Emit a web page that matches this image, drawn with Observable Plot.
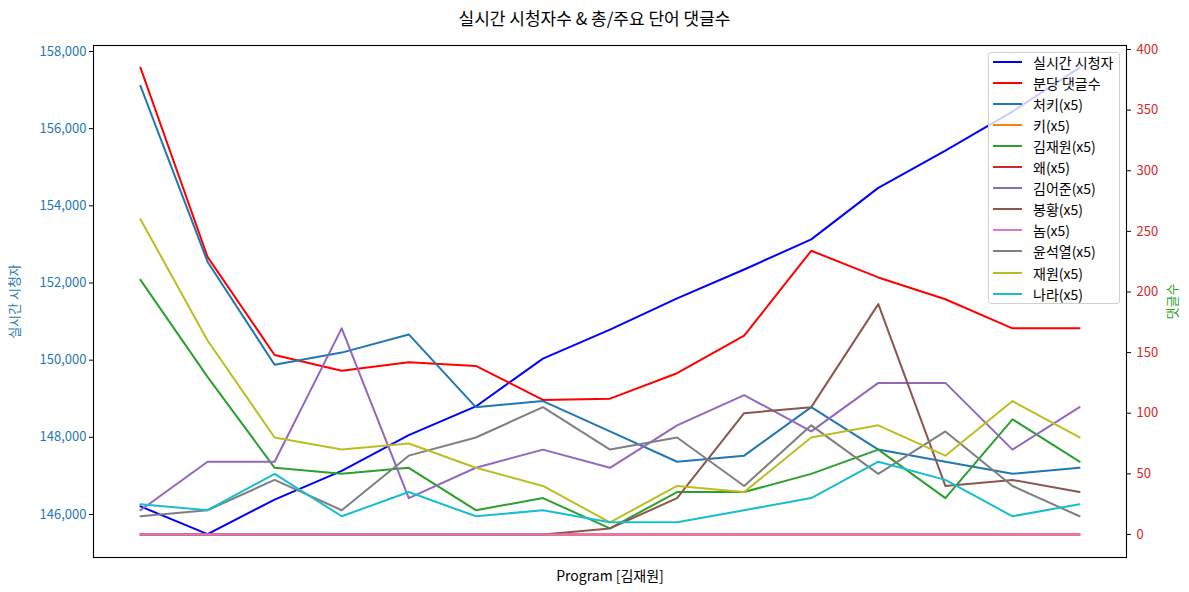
<!DOCTYPE html>
<html>
<head>
<meta charset="utf-8">
<script src="https://cdn.jsdelivr.net/npm/d3@7"></script>
<script src="https://cdn.jsdelivr.net/npm/@observablehq/plot@0.6"></script>
<style>
  html, body { margin: 0; padding: 0; background: white; }
  body { width: 1189px; height: 592px; overflow: hidden; font-family: "Noto Sans CJK KR", "Noto Sans", sans-serif; }
  #title { height: 36px; line-height: 36px; text-align: center; font-size: 17px; color: #000; }
  #wrap { position: relative; width: 1189px; height: 556px; }
  #wrap svg { position: absolute; left: 0; top: 0; }
  #legend { position: absolute; left: 988px; top: 16px; width: 132px; height: 252px; border: 1px solid #d0d0d0; border-radius: 3px; background: rgba(255,255,255,0.8); box-sizing: border-box; }
  .entry { position: absolute; left: 0; height: 20px; display: flex; align-items: center; font-size: 14px; color: #000; white-space: nowrap; }
  .sw { width: 29px; height: 2px; margin-left: 4px; margin-right: 11px; }
</style>
</head>
<body>
<div id="title">실시간 시청자수 &amp; 총/주요 단어 댓글수</div>
<div id="wrap"><div id="legend"></div></div>
<script>
// ---- data ----
const xIdx = [0, 1, 2, 3, 4, 5, 6, 7, 8, 9, 10, 11, 12, 13, 14];
const viewers = [146210, 145490, 146385, 147130, 148055, 148800, 150040, 150790, 151600, 152350, 153130, 154465, 155432, 156444, 157582];
const commentsPerMin = [385, 229, 148, 135, 142, 139, 111, 112, 133, 164, 234, 212, 194, 170, 170];
const keywordNames = ["처키", "키", "김재원", "왜", "김어준", "봉황", "놈", "윤석열", "재원", "나라"];
const kw처키 = [370, 225, 140, 150, 165, 105, 110, 85, 60, 65, 105, 70, 60, 50, 55];
const kw키 = [0, 0, 0, 0, 0, 0, 0, 0, 0, 0, 0, 0, 0, 0, 0];
const kw김재원 = [210, 130, 55, 50, 55, 20, 30, 5, 35, 35, 50, 70, 30, 95, 60];
const kw왜 = [0, 0, 0, 0, 0, 0, 0, 0, 0, 0, 0, 0, 0, 0, 0];
const kw김어준 = [20, 60, 60, 170, 30, 55, 70, 55, 90, 115, 85, 125, 125, 70, 105];
const kw봉황 = [0, 0, 0, 0, 0, 0, 0, 5, 30, 100, 105, 190, 40, 45, 35];
const kw놈 = [0, 0, 0, 0, 0, 0, 0, 0, 0, 0, 0, 0, 0, 0, 0];
const kw윤석열 = [15, 20, 45, 20, 65, 80, 105, 70, 80, 40, 90, 50, 85, 40, 15];
const kw재원 = [260, 160, 80, 70, 75, 55, 40, 10, 40, 35, 80, 90, 65, 110, 80];
const kw나라 = [25, 20, 50, 15, 35, 15, 20, 10, 10, 20, 30, 60, 45, 15, 25];
const keywordValues = [kw처키, kw키, kw김재원, kw왜, kw김어준, kw봉황, kw놈, kw윤석열, kw재원, kw나라];
const viewerTicks = [146000, 148000, 150000, 152000, 154000, 156000, 158000];
const commentTicks = [0, 50, 100, 150, 200, 250, 300, 350, 400];
const viewerLabel = "실시간 시청자";
const commentLabel = "분당 댓글수";
const leftAxisTitle = "실시간 시청자";
const rightAxisTitle = "댓글수";
const xAxisTitle = "Program [김재원]";

// ---- styles ----
const tab10 = ["#1f77b4", "#ff7f0e", "#2ca02c", "#d62728", "#9467bd", "#8c564b", "#e377c2", "#7f7f7f", "#bcbd22", "#17becf"];
const FONT = '"Noto Sans CJK KR", "Noto Sans", sans-serif';
const W = 1189, H = 556;
const M = {marginLeft: 93, marginRight: 63, marginTop: 9, marginBottom: 35};
const xDomain = [-0.7, 14.7];

// build long table for comment-axis series
const seriesNames = [commentLabel, ...keywordNames.map(n => n + "(x5)")];
const seriesColors = ["red", ...tab10];
const seriesValues = [commentsPerMin, ...keywordValues];
const rows = [];
seriesNames.forEach((name, s) => {
  seriesValues[s].forEach((v, i) => rows.push({x: xIdx[i], value: v, series: name}));
});

const wrap = document.getElementById("wrap");

const p1 = Plot.plot({
  width: W, height: H, ...M,
  x: {domain: xDomain, axis: null},
  y: {domain: [144885, 158155], axis: null},
  style: {fontFamily: FONT, fontSize: "13px", background: "white", overflow: "visible"},
  marks: [
    Plot.axisY({ticks: viewerTicks, tickSize: 4, tickFormat: () => "", color: "black", label: null}),
    Plot.axisY({ticks: viewerTicks, tickSize: 0, tickPadding: 7, tickFormat: d3.format(","), color: "#1f77b4", label: null}),
    Plot.line(viewers, {x: xIdx, y: d => d, stroke: "blue", strokeWidth: 2}),
    Plot.text([leftAxisTitle], {frameAnchor: "left", dx: -79, rotate: -90, textAnchor: "middle", lineAnchor: "middle", text: d => d, fill: "#1f77b4", fontSize: 13})
  ]
});
wrap.insertBefore(p1, wrap.firstChild);

const p2 = Plot.plot({
  width: W, height: H, ...M,
  x: {domain: xDomain, axis: null},
  y: {domain: [-19, 403.3], axis: null},
  color: {domain: seriesNames, range: seriesColors},
  style: {fontFamily: FONT, fontSize: "13px", background: "transparent", overflow: "visible"},
  marks: [
    Plot.line(rows, {x: "x", y: "value", z: "series", stroke: "series", strokeWidth: 2}),
    Plot.frame({stroke: "black", strokeWidth: 1.1}),
    Plot.axisY({anchor: "right", ticks: commentTicks, tickSize: 4, tickFormat: () => "", color: "black", label: null}),
    Plot.axisY({anchor: "right", ticks: commentTicks, tickSize: 0, tickPadding: 10, tickFormat: d3.format("d"), color: "#d62728", label: null}),
    Plot.text([rightAxisTitle], {frameAnchor: "right", dx: 46, rotate: -90, textAnchor: "middle", lineAnchor: "middle", text: d => d, fill: "#2ca02c", fontSize: 13}),
    Plot.text([xAxisTitle], {frameAnchor: "bottom", dy: 19, textAnchor: "middle", lineAnchor: "middle", text: d => d, fill: "black", fontSize: 14})
  ]
});
wrap.insertBefore(p2, document.getElementById("legend"));

// ---- legend ----
const legend = document.getElementById("legend");
const legendNames = [viewerLabel, ...seriesNames];
const legendColors = ["blue", ...seriesColors];
legendNames.forEach((name, i) => {
  const e = document.createElement("div");
  e.className = "entry";
  e.style.top = (-1 + i * 21.05) + "px";
  const sw = document.createElement("div");
  sw.className = "sw";
  sw.style.background = legendColors[i];
  const t = document.createElement("span");
  t.textContent = name;
  e.appendChild(sw); e.appendChild(t);
  legend.appendChild(e);
});
</script>
</body>
</html>
